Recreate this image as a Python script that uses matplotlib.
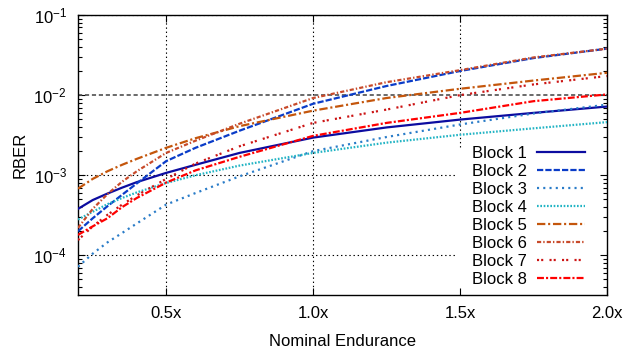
import numpy as np
import matplotlib
matplotlib.use("Agg")
import matplotlib.pyplot as plt

plt.rcParams['font.family'] = ['Liberation Sans', 'DejaVu Sans']
plt.rcParams['mathtext.fontset'] = 'custom'
plt.rcParams['mathtext.rm'] = 'Liberation Sans'
plt.rcParams['lines.scale_dashes'] = False

endurance = [0.2, 0.25, 0.3, 0.35, 0.4, 0.5, 0.6, 0.75, 1.0, 1.25, 1.5, 1.75, 2.0]

block1 = [3.8e-4, 4.9e-4, 5.9e-4, 7.0e-4, 8.2e-4, 1.07e-3, 1.35e-3, 1.9e-3, 2.95e-3, 3.95e-3, 4.95e-3, 6.0e-3, 7.2e-3]
block2 = [2.0e-4, 2.9e-4, 4.1e-4, 5.7e-4, 7.9e-4, 1.5e-3, 2.2e-3, 3.6e-3, 7.8e-3, 1.3e-2, 2.0e-2, 2.9e-2, 3.8e-2]
block3 = [7.2e-5, 1.05e-4, 1.45e-4, 1.9e-4, 2.5e-4, 4.3e-4, 6.0e-4, 9.7e-4, 2.0e-3, 3.0e-3, 4.3e-3, 5.9e-3, 7.6e-3]
block4 = [2.8e-4, 3.5e-4, 4.35e-4, 5.2e-4, 6.1e-4, 8.0e-4, 1.0e-3, 1.32e-3, 1.9e-3, 2.55e-3, 3.2e-3, 3.85e-3, 4.6e-3]
block5 = [6.8e-4, 9.0e-4, 1.12e-3, 1.35e-3, 1.6e-3, 2.2e-3, 2.9e-3, 4.1e-3, 6.4e-3, 9.2e-3, 1.2e-2, 1.52e-2, 1.9e-2]
block6 = [2.2e-4, 3.8e-4, 5.8e-4, 8.3e-4, 1.12e-3, 1.9e-3, 2.7e-3, 4.4e-3, 9.2e-3, 1.45e-2, 2.05e-2, 2.95e-2, 3.8e-2]
block7 = [1.55e-4, 2.3e-4, 3.2e-4, 4.3e-4, 5.6e-4, 9.0e-4, 1.4e-3, 2.3e-3, 4.5e-3, 6.6e-3, 1.0e-2, 1.36e-2, 1.73e-2]
block8 = [1.8e-4, 2.3e-4, 2.9e-4, 4.0e-4, 5.2e-4, 8.1e-4, 1.15e-3, 1.7e-3, 3.1e-3, 4.5e-3, 6.0e-3, 8.4e-3, 1.02e-2]

labels = ['Block 1', 'Block 2', 'Block 3', 'Block 4', 'Block 5', 'Block 6', 'Block 7', 'Block 8']
series = [block1, block2, block3, block4, block5, block6, block7, block8]
threshold = 1e-2

colors = ['#0c0ca0', '#0a3cc8', '#2a7cc8', '#22b4c4', '#c4560c', '#c84a2a', '#cc1414', '#ff0000']
dashes = [None, (4.5, 1.5), (1.5, 3.0), (1.2, 1.2), (6, 2, 1.5, 2),
          (3, 1.5, 1, 1.5), (1.5, 1.5, 1.5, 4.5), (5, 1.5, 1.5, 1.5)]

fig = plt.figure(figsize=(6.25, 3.49), dpi=100)
ax = fig.add_axes([78 / 625, 1 - 295 / 349, 529 / 625, 280 / 349])

for lab, ys, c, d in zip(labels, series, colors, dashes):
    if d is None:
        ax.plot(endurance, ys, color=c, lw=1.6, label=lab, zorder=3)
    else:
        ax.plot(endurance, ys, color=c, lw=1.6, dashes=d, label=lab, zorder=3)

ax.set_yscale('log')
ax.set_xlim(0.2, 2.0)
ax.set_ylim(3.2e-5, 1e-1)

xticks = [0.5, 1.0, 1.5, 2.0]
ax.set_xticks(xticks)
ax.set_xticklabels(['0.5x', '1.0x', '1.5x', '2.0x'])

# grid, kept clear of the legend area
leg_x = (455 - 78) / 529
leg_y = (295 - 147) / 280
for v in [1e-1]:
    ax.axhline(v, color='k', lw=0.8, ls=(0, (1, 2)), zorder=1)
for v in [1e-3, 1e-4]:
    ax.axhline(v, xmax=leg_x, color='k', lw=0.8, ls=(0, (1, 2)), zorder=1)
for v in [0.5, 1.0]:
    ax.axvline(v, color='k', lw=0.8, ls=(0, (1, 2)), zorder=1)
ax.axvline(1.5, ymin=leg_y, color='k', lw=0.8, ls=(0, (1, 2)), zorder=1)
ax.axhline(threshold, color='#505050', lw=1.2, dashes=(3, 2), zorder=2)

ax.tick_params(which='both', direction='in', top=True, right=True, labelsize=12)
ax.tick_params(which='major', length=5, width=0.8, pad=8)
ax.tick_params(which='minor', length=3, width=0.8)
ax.tick_params(axis='x', which='minor', top=False, bottom=False)
for s in ax.spines.values():
    s.set_linewidth(1.0)

ax.set_xlabel('Nominal Endurance', fontsize=12, labelpad=9)
ax.set_ylabel('RBER', fontsize=12, labelpad=4)

ax.legend(loc='lower right', markerfirst=False, frameon=False, fontsize=12,
          handlelength=2.9, handletextpad=0.6, labelspacing=0.18,
          borderaxespad=0.2, borderpad=0.3, bbox_to_anchor=(0.975, 0.0))

fig.savefig('out.png', dpi=100)
